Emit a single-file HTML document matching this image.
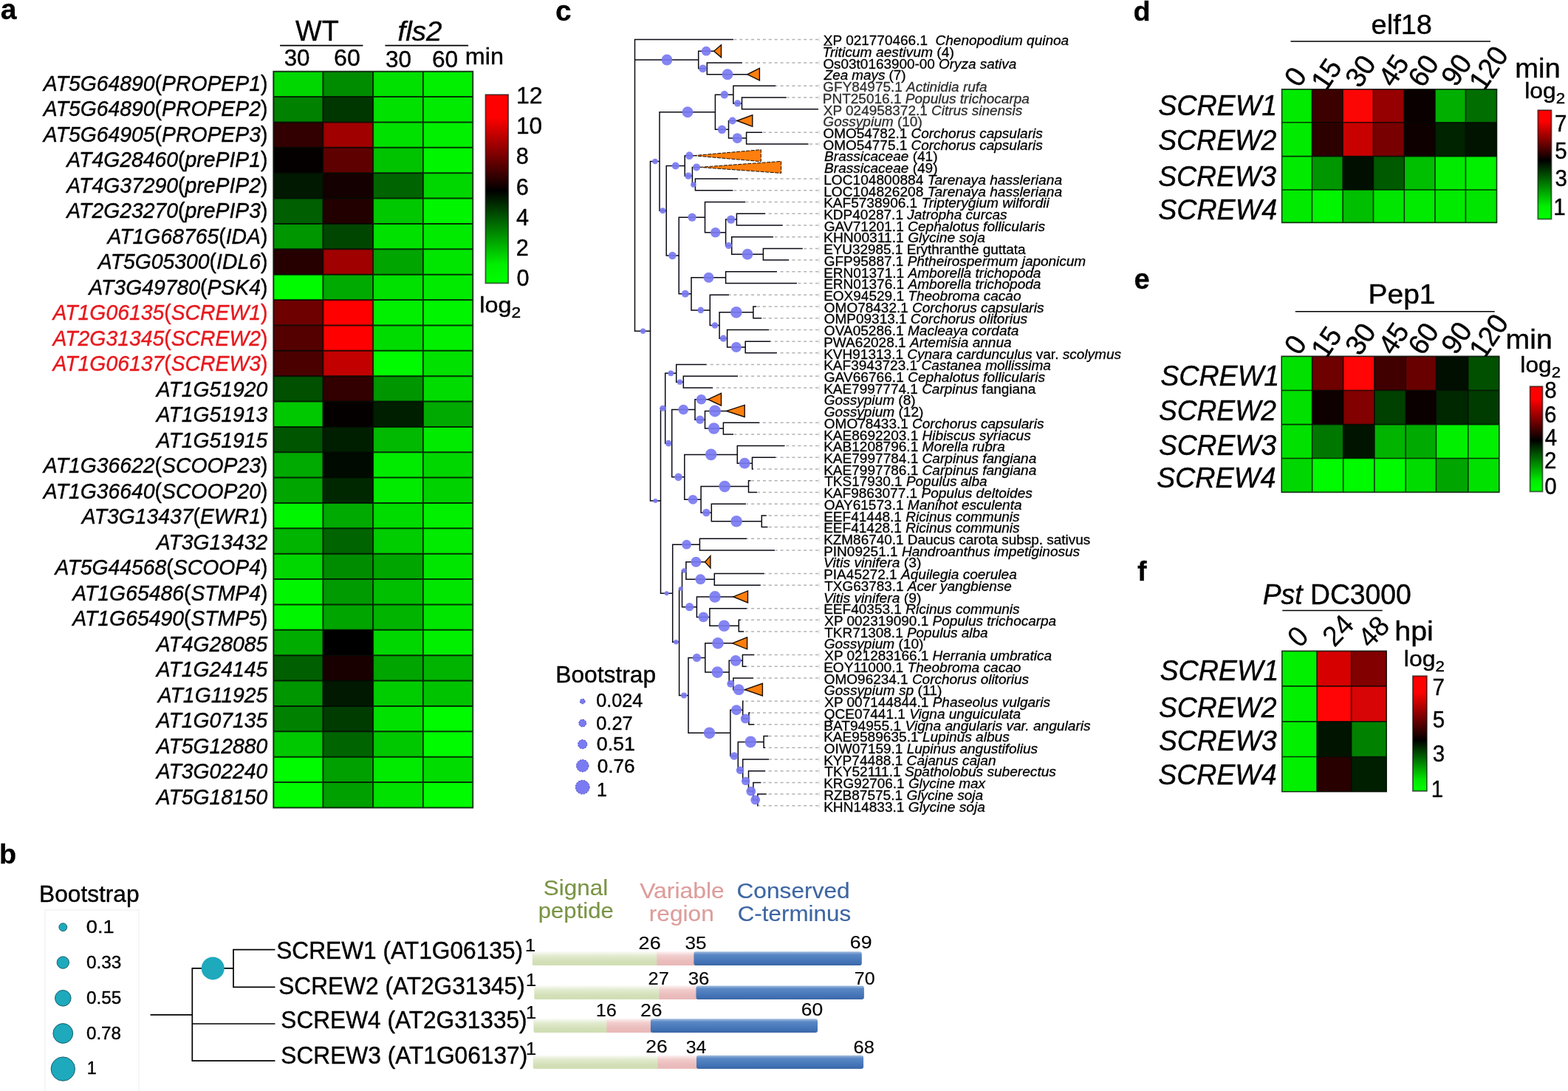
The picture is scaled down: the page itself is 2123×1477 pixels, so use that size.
<!DOCTYPE html>
<html lang="en">
<head>
<meta charset="utf-8">
<title>SCREW peptides figure</title>
<style>
html,body{margin:0;padding:0;background:#fff;}
body{width:2123px;height:1477px;overflow:hidden;}
svg{display:block;font-family:"Liberation Sans",sans-serif;fill:#000;}
text{stroke:#000;stroke-width:0.4px;stroke-linejoin:round;}
text.s0{stroke-width:0} text.s1{stroke-width:0.3px} text.s2{stroke-width:0.15px}
</style>
</head>
<body>
<svg width="2123" height="1477" viewBox="0 0 2123 1477">
<rect width="2123" height="1477" fill="#fff"/>
<defs>
<linearGradient id="gb" x1="0" y1="0" x2="0" y2="1"><stop offset="0" stop-color="#ff0000"/><stop offset="0.12" stop-color="#ff0000"/><stop offset="0.51" stop-color="#000000"/><stop offset="0.9" stop-color="#00ee00"/><stop offset="1" stop-color="#00ff00"/></linearGradient>
<linearGradient id="gb2" x1="0" y1="0" x2="0" y2="1"><stop offset="0" stop-color="#ff0000"/><stop offset="0.1" stop-color="#ff0000"/><stop offset="0.46" stop-color="#000000"/><stop offset="0.88" stop-color="#00ee00"/><stop offset="1" stop-color="#00ff00"/></linearGradient>
<linearGradient id="gb3" x1="0" y1="0" x2="0" y2="1"><stop offset="0" stop-color="#ff0000"/><stop offset="0.14" stop-color="#ff0000"/><stop offset="0.56" stop-color="#000000"/><stop offset="0.9" stop-color="#00e600"/><stop offset="1" stop-color="#00ff00"/></linearGradient>
<linearGradient id="gg" x1="0" y1="0" x2="0" y2="1"><stop offset="0" stop-color="#fbfcf8"/><stop offset="0.3" stop-color="#e2ebd0"/><stop offset="0.7" stop-color="#d3e0b7"/><stop offset="1" stop-color="#d0deb3"/></linearGradient>
<linearGradient id="gp" x1="0" y1="0" x2="0" y2="1"><stop offset="0" stop-color="#fdf4f4"/><stop offset="0.3" stop-color="#f1cdcc"/><stop offset="0.7" stop-color="#eabcbb"/><stop offset="1" stop-color="#e8b8b7"/></linearGradient>
<linearGradient id="gbl" x1="0" y1="0" x2="0" y2="1"><stop offset="0" stop-color="#a3bde0"/><stop offset="0.22" stop-color="#5a88c5"/><stop offset="0.75" stop-color="#4273b6"/><stop offset="1" stop-color="#3a67a6"/></linearGradient>
</defs>
<text x="0.7" y="26.4" font-size="39.2" font-weight="bold" class="s1">a</text>
<text x="752" y="27.6" font-size="38.8" font-weight="bold" class="s1">c</text>
<text x="1534.4" y="27.8" font-size="37.8" font-weight="bold" class="s1">d</text>
<text x="1535.5" y="391.2" font-size="38" font-weight="bold" class="s1">e</text>
<text x="1540" y="786" font-size="37.8" font-weight="bold" class="s1">f</text>
<text x="-1" y="1169" font-size="37.8" font-weight="bold" class="s1">b</text>
<rect x="370.3" y="96.7" width="67.4" height="34.67" fill="#00d700"/>
<rect x="437.4" y="96.7" width="68" height="34.67" fill="#008c00"/>
<rect x="505.1" y="96.7" width="68.1" height="34.67" fill="#00e100"/>
<rect x="572.9" y="96.7" width="67.6" height="34.67" fill="#00f000"/>
<rect x="370.3" y="131.07" width="67.4" height="34.67" fill="#008200"/>
<rect x="437.4" y="131.07" width="68" height="34.67" fill="#003700"/>
<rect x="505.1" y="131.07" width="68.1" height="34.67" fill="#00e100"/>
<rect x="572.9" y="131.07" width="67.6" height="34.67" fill="#00eb00"/>
<rect x="370.3" y="165.44" width="67.4" height="34.67" fill="#320000"/>
<rect x="437.4" y="165.44" width="68" height="34.67" fill="#a00000"/>
<rect x="505.1" y="165.44" width="68.1" height="34.67" fill="#00e100"/>
<rect x="572.9" y="165.44" width="67.6" height="34.67" fill="#00f000"/>
<rect x="370.3" y="199.81" width="67.4" height="34.67" fill="#050000"/>
<rect x="437.4" y="199.81" width="68" height="34.67" fill="#5f0000"/>
<rect x="505.1" y="199.81" width="68.1" height="34.67" fill="#00c300"/>
<rect x="572.9" y="199.81" width="67.6" height="34.67" fill="#00f500"/>
<rect x="370.3" y="234.18" width="67.4" height="34.67" fill="#001900"/>
<rect x="437.4" y="234.18" width="68" height="34.67" fill="#140000"/>
<rect x="505.1" y="234.18" width="68.1" height="34.67" fill="#006400"/>
<rect x="572.9" y="234.18" width="67.6" height="34.67" fill="#00d700"/>
<rect x="370.3" y="268.55" width="67.4" height="34.67" fill="#005f00"/>
<rect x="437.4" y="268.55" width="68" height="34.67" fill="#230000"/>
<rect x="505.1" y="268.55" width="68.1" height="34.67" fill="#00c800"/>
<rect x="572.9" y="268.55" width="67.6" height="34.67" fill="#00f500"/>
<rect x="370.3" y="302.92" width="67.4" height="34.67" fill="#009600"/>
<rect x="437.4" y="302.92" width="68" height="34.67" fill="#004600"/>
<rect x="505.1" y="302.92" width="68.1" height="34.67" fill="#00e100"/>
<rect x="572.9" y="302.92" width="67.6" height="34.67" fill="#00eb00"/>
<rect x="370.3" y="337.29" width="67.4" height="34.67" fill="#260000"/>
<rect x="437.4" y="337.29" width="68" height="34.67" fill="#a00000"/>
<rect x="505.1" y="337.29" width="68.1" height="34.67" fill="#00a500"/>
<rect x="572.9" y="337.29" width="67.6" height="34.67" fill="#00e600"/>
<rect x="370.3" y="371.66" width="67.4" height="34.67" fill="#00fa00"/>
<rect x="437.4" y="371.66" width="68" height="34.67" fill="#00aa00"/>
<rect x="505.1" y="371.66" width="68.1" height="34.67" fill="#00e100"/>
<rect x="572.9" y="371.66" width="67.6" height="34.67" fill="#00eb00"/>
<rect x="370.3" y="406.03" width="67.4" height="34.67" fill="#6e0000"/>
<rect x="437.4" y="406.03" width="68" height="34.67" fill="#ff0000"/>
<rect x="505.1" y="406.03" width="68.1" height="34.67" fill="#00f000"/>
<rect x="572.9" y="406.03" width="67.6" height="34.67" fill="#00f500"/>
<rect x="370.3" y="440.4" width="67.4" height="34.67" fill="#550000"/>
<rect x="437.4" y="440.4" width="68" height="34.67" fill="#ff0000"/>
<rect x="505.1" y="440.4" width="68.1" height="34.67" fill="#00dc00"/>
<rect x="572.9" y="440.4" width="67.6" height="34.67" fill="#00f000"/>
<rect x="370.3" y="474.77" width="67.4" height="34.67" fill="#4b0000"/>
<rect x="437.4" y="474.77" width="68" height="34.67" fill="#c30000"/>
<rect x="505.1" y="474.77" width="68.1" height="34.67" fill="#00fa00"/>
<rect x="572.9" y="474.77" width="67.6" height="34.67" fill="#00e100"/>
<rect x="370.3" y="509.14" width="67.4" height="34.67" fill="#005000"/>
<rect x="437.4" y="509.14" width="68" height="34.67" fill="#320000"/>
<rect x="505.1" y="509.14" width="68.1" height="34.67" fill="#009600"/>
<rect x="572.9" y="509.14" width="67.6" height="34.67" fill="#00dc00"/>
<rect x="370.3" y="543.51" width="67.4" height="34.67" fill="#00c800"/>
<rect x="437.4" y="543.51" width="68" height="34.67" fill="#050000"/>
<rect x="505.1" y="543.51" width="68.1" height="34.67" fill="#001e00"/>
<rect x="572.9" y="543.51" width="67.6" height="34.67" fill="#00aa00"/>
<rect x="370.3" y="577.88" width="67.4" height="34.67" fill="#005500"/>
<rect x="437.4" y="577.88" width="68" height="34.67" fill="#001e00"/>
<rect x="505.1" y="577.88" width="68.1" height="34.67" fill="#00b900"/>
<rect x="572.9" y="577.88" width="67.6" height="34.67" fill="#00eb00"/>
<rect x="370.3" y="612.25" width="67.4" height="34.67" fill="#00aa00"/>
<rect x="437.4" y="612.25" width="68" height="34.67" fill="#000a00"/>
<rect x="505.1" y="612.25" width="68.1" height="34.67" fill="#00eb00"/>
<rect x="572.9" y="612.25" width="67.6" height="34.67" fill="#00d700"/>
<rect x="370.3" y="646.62" width="67.4" height="34.67" fill="#00a500"/>
<rect x="437.4" y="646.62" width="68" height="34.67" fill="#002800"/>
<rect x="505.1" y="646.62" width="68.1" height="34.67" fill="#00eb00"/>
<rect x="572.9" y="646.62" width="67.6" height="34.67" fill="#00d200"/>
<rect x="370.3" y="680.99" width="67.4" height="34.67" fill="#00f500"/>
<rect x="437.4" y="680.99" width="68" height="34.67" fill="#00aa00"/>
<rect x="505.1" y="680.99" width="68.1" height="34.67" fill="#00dc00"/>
<rect x="572.9" y="680.99" width="67.6" height="34.67" fill="#00f000"/>
<rect x="370.3" y="715.36" width="67.4" height="34.67" fill="#00b400"/>
<rect x="437.4" y="715.36" width="68" height="34.67" fill="#006400"/>
<rect x="505.1" y="715.36" width="68.1" height="34.67" fill="#00cd00"/>
<rect x="572.9" y="715.36" width="67.6" height="34.67" fill="#00eb00"/>
<rect x="370.3" y="749.73" width="67.4" height="34.67" fill="#00d700"/>
<rect x="437.4" y="749.73" width="68" height="34.67" fill="#008c00"/>
<rect x="505.1" y="749.73" width="68.1" height="34.67" fill="#00a500"/>
<rect x="572.9" y="749.73" width="67.6" height="34.67" fill="#00e600"/>
<rect x="370.3" y="784.1" width="67.4" height="34.67" fill="#00f500"/>
<rect x="437.4" y="784.1" width="68" height="34.67" fill="#009b00"/>
<rect x="505.1" y="784.1" width="68.1" height="34.67" fill="#00be00"/>
<rect x="572.9" y="784.1" width="67.6" height="34.67" fill="#00e600"/>
<rect x="370.3" y="818.47" width="67.4" height="34.67" fill="#00f500"/>
<rect x="437.4" y="818.47" width="68" height="34.67" fill="#00a500"/>
<rect x="505.1" y="818.47" width="68.1" height="34.67" fill="#00b400"/>
<rect x="572.9" y="818.47" width="67.6" height="34.67" fill="#00e600"/>
<rect x="370.3" y="852.84" width="67.4" height="34.67" fill="#00ac00"/>
<rect x="437.4" y="852.84" width="68" height="34.67" fill="#000000"/>
<rect x="505.1" y="852.84" width="68.1" height="34.67" fill="#00d700"/>
<rect x="572.9" y="852.84" width="67.6" height="34.67" fill="#00f000"/>
<rect x="370.3" y="887.21" width="67.4" height="34.67" fill="#005f00"/>
<rect x="437.4" y="887.21" width="68" height="34.67" fill="#190000"/>
<rect x="505.1" y="887.21" width="68.1" height="34.67" fill="#00a500"/>
<rect x="572.9" y="887.21" width="67.6" height="34.67" fill="#00b400"/>
<rect x="370.3" y="921.58" width="67.4" height="34.67" fill="#009600"/>
<rect x="437.4" y="921.58" width="68" height="34.67" fill="#001900"/>
<rect x="505.1" y="921.58" width="68.1" height="34.67" fill="#00cd00"/>
<rect x="572.9" y="921.58" width="67.6" height="34.67" fill="#00c300"/>
<rect x="370.3" y="955.95" width="67.4" height="34.67" fill="#008200"/>
<rect x="437.4" y="955.95" width="68" height="34.67" fill="#003c00"/>
<rect x="505.1" y="955.95" width="68.1" height="34.67" fill="#00e100"/>
<rect x="572.9" y="955.95" width="67.6" height="34.67" fill="#00fa00"/>
<rect x="370.3" y="990.32" width="67.4" height="34.67" fill="#00c800"/>
<rect x="437.4" y="990.32" width="68" height="34.67" fill="#006400"/>
<rect x="505.1" y="990.32" width="68.1" height="34.67" fill="#00c800"/>
<rect x="572.9" y="990.32" width="67.6" height="34.67" fill="#00fa00"/>
<rect x="370.3" y="1024.69" width="67.4" height="34.67" fill="#00fa00"/>
<rect x="437.4" y="1024.69" width="68" height="34.67" fill="#00a000"/>
<rect x="505.1" y="1024.69" width="68.1" height="34.67" fill="#00eb00"/>
<rect x="572.9" y="1024.69" width="67.6" height="34.67" fill="#00dc00"/>
<rect x="370.3" y="1059.06" width="67.4" height="34.67" fill="#00fa00"/>
<rect x="437.4" y="1059.06" width="68" height="34.67" fill="#00a000"/>
<rect x="505.1" y="1059.06" width="68.1" height="34.67" fill="#00e100"/>
<rect x="572.9" y="1059.06" width="67.6" height="34.67" fill="#00fa00"/>
<path d="M370.3 96.7V1093.43M437.4 96.7V1093.43M505.1 96.7V1093.43M572.9 96.7V1093.43M640.2 96.7V1093.43M370.3 96.7H640.2M370.3 131.07H640.2M370.3 165.44H640.2M370.3 199.81H640.2M370.3 234.18H640.2M370.3 268.55H640.2M370.3 302.92H640.2M370.3 337.29H640.2M370.3 371.66H640.2M370.3 406.03H640.2M370.3 440.4H640.2M370.3 474.77H640.2M370.3 509.14H640.2M370.3 543.51H640.2M370.3 577.88H640.2M370.3 612.25H640.2M370.3 646.62H640.2M370.3 680.99H640.2M370.3 715.36H640.2M370.3 749.73H640.2M370.3 784.1H640.2M370.3 818.47H640.2M370.3 852.84H640.2M370.3 887.21H640.2M370.3 921.58H640.2M370.3 955.95H640.2M370.3 990.32H640.2M370.3 1024.69H640.2M370.3 1059.06H640.2M370.3 1093.43H640.2" stroke="#000800" stroke-width="2" fill="none" stroke-opacity="0.8" stroke-linecap="square"/>
<text x="362.4" y="122.85" font-size="29.48" xml:space="preserve" text-anchor="end" textLength="303.56" lengthAdjust="spacingAndGlyphs"><tspan font-style="italic">AT5G64890</tspan>(<tspan font-style="italic">PROPEP1</tspan>)</text>
<text x="362.4" y="157.35" font-size="29.48" xml:space="preserve" text-anchor="end" textLength="303.56" lengthAdjust="spacingAndGlyphs"><tspan font-style="italic">AT5G64890</tspan>(<tspan font-style="italic">PROPEP2</tspan>)</text>
<text x="362.4" y="191.85" font-size="29.48" xml:space="preserve" text-anchor="end" textLength="303.56" lengthAdjust="spacingAndGlyphs"><tspan font-style="italic">AT5G64905</tspan>(<tspan font-style="italic">PROPEP3</tspan>)</text>
<text x="362.4" y="226.35" font-size="29.48" xml:space="preserve" text-anchor="end" textLength="272.08" lengthAdjust="spacingAndGlyphs"><tspan font-style="italic">AT4G28460</tspan>(<tspan font-style="italic">prePIP1</tspan>)</text>
<text x="362.4" y="260.85" font-size="29.48" xml:space="preserve" text-anchor="end" textLength="272.08" lengthAdjust="spacingAndGlyphs"><tspan font-style="italic">AT4G37290</tspan>(<tspan font-style="italic">prePIP2</tspan>)</text>
<text x="362.4" y="295.35" font-size="29.48" xml:space="preserve" text-anchor="end" textLength="272.08" lengthAdjust="spacingAndGlyphs"><tspan font-style="italic">AT2G23270</tspan>(<tspan font-style="italic">prePIP3</tspan>)</text>
<text x="362.4" y="329.85" font-size="29.48" xml:space="preserve" text-anchor="end" textLength="216.91" lengthAdjust="spacingAndGlyphs"><tspan font-style="italic">AT1G68765</tspan>(<tspan font-style="italic">IDA</tspan>)</text>
<text x="362.4" y="364.35" font-size="29.48" xml:space="preserve" text-anchor="end" textLength="229.53" lengthAdjust="spacingAndGlyphs"><tspan font-style="italic">AT5G05300</tspan>(<tspan font-style="italic">IDL6</tspan>)</text>
<text x="362.4" y="398.85" font-size="29.48" xml:space="preserve" text-anchor="end" textLength="242.14" lengthAdjust="spacingAndGlyphs"><tspan font-style="italic">AT3G49780</tspan>(<tspan font-style="italic">PSK4</tspan>)</text>
<text x="362.4" y="433.35" font-size="29.48" xml:space="preserve" text-anchor="end" style="fill:#e6191e;stroke:#e6191e" textLength="290.92" lengthAdjust="spacingAndGlyphs"><tspan font-style="italic">AT1G06135</tspan>(<tspan font-style="italic">SCREW1</tspan>)</text>
<text x="362.4" y="467.85" font-size="29.48" xml:space="preserve" text-anchor="end" style="fill:#e6191e;stroke:#e6191e" textLength="290.92" lengthAdjust="spacingAndGlyphs"><tspan font-style="italic">AT2G31345</tspan>(<tspan font-style="italic">SCREW2</tspan>)</text>
<text x="362.4" y="502.35" font-size="29.48" xml:space="preserve" text-anchor="end" style="fill:#e6191e;stroke:#e6191e" textLength="290.92" lengthAdjust="spacingAndGlyphs"><tspan font-style="italic">AT1G06137</tspan>(<tspan font-style="italic">SCREW3</tspan>)</text>
<text x="362.4" y="536.85" font-size="29.48" xml:space="preserve" text-anchor="end" textLength="150.75" lengthAdjust="spacingAndGlyphs"><tspan font-style="italic">AT1G51920</tspan></text>
<text x="362.4" y="571.35" font-size="29.48" xml:space="preserve" text-anchor="end" textLength="150.75" lengthAdjust="spacingAndGlyphs"><tspan font-style="italic">AT1G51913</tspan></text>
<text x="362.4" y="605.85" font-size="29.48" xml:space="preserve" text-anchor="end" textLength="150.75" lengthAdjust="spacingAndGlyphs"><tspan font-style="italic">AT1G51915</tspan></text>
<text x="362.4" y="640.35" font-size="29.48" xml:space="preserve" text-anchor="end" textLength="303.56" lengthAdjust="spacingAndGlyphs"><tspan font-style="italic">AT1G36622</tspan>(<tspan font-style="italic">SCOOP23</tspan>)</text>
<text x="362.4" y="674.85" font-size="29.48" xml:space="preserve" text-anchor="end" textLength="303.56" lengthAdjust="spacingAndGlyphs"><tspan font-style="italic">AT1G36640</tspan>(<tspan font-style="italic">SCOOP20</tspan>)</text>
<text x="362.4" y="709.35" font-size="29.48" xml:space="preserve" text-anchor="end" textLength="251.55" lengthAdjust="spacingAndGlyphs"><tspan font-style="italic">AT3G13437</tspan>(<tspan font-style="italic">EWR1</tspan>)</text>
<text x="362.4" y="743.85" font-size="29.48" xml:space="preserve" text-anchor="end" textLength="150.75" lengthAdjust="spacingAndGlyphs"><tspan font-style="italic">AT3G13432</tspan></text>
<text x="362.4" y="778.35" font-size="29.48" xml:space="preserve" text-anchor="end" textLength="287.8" lengthAdjust="spacingAndGlyphs"><tspan font-style="italic">AT5G44568</tspan>(<tspan font-style="italic">SCOOP4</tspan>)</text>
<text x="362.4" y="812.85" font-size="29.48" xml:space="preserve" text-anchor="end" textLength="264.16" lengthAdjust="spacingAndGlyphs"><tspan font-style="italic">AT1G65486</tspan>(<tspan font-style="italic">STMP4</tspan>)</text>
<text x="362.4" y="847.35" font-size="29.48" xml:space="preserve" text-anchor="end" textLength="264.16" lengthAdjust="spacingAndGlyphs"><tspan font-style="italic">AT1G65490</tspan>(<tspan font-style="italic">STMP5</tspan>)</text>
<text x="362.4" y="881.85" font-size="29.48" xml:space="preserve" text-anchor="end" textLength="150.75" lengthAdjust="spacingAndGlyphs"><tspan font-style="italic">AT4G28085</tspan></text>
<text x="362.4" y="916.35" font-size="29.48" xml:space="preserve" text-anchor="end" textLength="150.75" lengthAdjust="spacingAndGlyphs"><tspan font-style="italic">AT1G24145</tspan></text>
<text x="362.4" y="950.85" font-size="29.48" xml:space="preserve" text-anchor="end" textLength="148.64" lengthAdjust="spacingAndGlyphs"><tspan font-style="italic">AT1G11925</tspan></text>
<text x="362.4" y="985.35" font-size="29.48" xml:space="preserve" text-anchor="end" textLength="150.75" lengthAdjust="spacingAndGlyphs"><tspan font-style="italic">AT1G07135</tspan></text>
<text x="362.4" y="1019.85" font-size="29.48" xml:space="preserve" text-anchor="end" textLength="150.75" lengthAdjust="spacingAndGlyphs"><tspan font-style="italic">AT5G12880</tspan></text>
<text x="362.4" y="1054.35" font-size="29.48" xml:space="preserve" text-anchor="end" textLength="150.75" lengthAdjust="spacingAndGlyphs"><tspan font-style="italic">AT3G02240</tspan></text>
<text x="362.4" y="1088.85" font-size="29.48" xml:space="preserve" text-anchor="end" textLength="150.75" lengthAdjust="spacingAndGlyphs"><tspan font-style="italic">AT5G18150</tspan></text>
<text x="400.03" y="54.8" font-size="39.52" textLength="58.73" lengthAdjust="spacingAndGlyphs">WT</text>
<text x="538.5" y="54.9" font-size="37.43" font-style="italic" textLength="59.96" lengthAdjust="spacingAndGlyphs">fls2</text>
<line x1="379.1" y1="61.7" x2="491.4" y2="61.7" stroke="#000" stroke-width="1.8"/>
<line x1="521.4" y1="61.7" x2="634.1" y2="61.7" stroke="#000" stroke-width="1.8"/>
<text x="384.71" y="89" font-size="31.93" textLength="34.82" lengthAdjust="spacingAndGlyphs">30</text>
<text x="452.07" y="89" font-size="31.93" textLength="35.68" lengthAdjust="spacingAndGlyphs">60</text>
<text x="521.9" y="90.5" font-size="31.93" textLength="35.03" lengthAdjust="spacingAndGlyphs">30</text>
<text x="585" y="90.5" font-size="31.93" textLength="35.14" lengthAdjust="spacingAndGlyphs">60</text>
<text x="629.85" y="86.6" font-size="30.7" textLength="52.15" lengthAdjust="spacingAndGlyphs">min</text>
<rect x="657.4" y="128.2" width="30.8" height="255.2" fill="url(#gb)" stroke="#000" stroke-opacity="0.6" stroke-width="1.8"/>
<text x="698.91" y="140.2" font-size="31.93" textLength="35.6" lengthAdjust="spacingAndGlyphs">12</text>
<text x="698.95" y="181.2" font-size="31.93" textLength="35.18" lengthAdjust="spacingAndGlyphs">10</text>
<text x="698.77" y="221.9" font-size="31.93" textLength="17.08" lengthAdjust="spacingAndGlyphs">8</text>
<text x="698.74" y="263.7" font-size="31.93" textLength="17.08" lengthAdjust="spacingAndGlyphs">6</text>
<text x="699.1" y="304.6" font-size="31.93" textLength="17.08" lengthAdjust="spacingAndGlyphs">4</text>
<text x="698.76" y="346" font-size="31.93" textLength="17.08" lengthAdjust="spacingAndGlyphs">2</text>
<text x="699.4" y="386.9" font-size="31.93" textLength="17.08" lengthAdjust="spacingAndGlyphs">0</text>
<text x="649.32" y="423.2" font-size="29.8" textLength="55.82" lengthAdjust="spacingAndGlyphs">log<tspan font-size="21" dy="7.2">2</tspan></text>
<text x="1856.59" y="45.6" font-size="36.6" textLength="82.37" lengthAdjust="spacingAndGlyphs">elf18</text>
<line x1="1747.5" y1="56" x2="2018" y2="56" stroke="#000" stroke-width="1.5"/>
<text x="1764.68" y="111.21" font-size="38.48" text-anchor="middle" textLength="20.58" lengthAdjust="spacingAndGlyphs" transform="rotate(-56 1764.68 111.21)">0</text>
<text x="1806.68" y="108.01" font-size="38.48" text-anchor="middle" textLength="41.16" lengthAdjust="spacingAndGlyphs" transform="rotate(-56 1806.68 108.01)">15</text>
<text x="1852.68" y="103.61" font-size="38.48" text-anchor="middle" textLength="41.16" lengthAdjust="spacingAndGlyphs" transform="rotate(-56 1852.68 103.61)">30</text>
<text x="1897.78" y="102.81" font-size="38.48" text-anchor="middle" textLength="41.16" lengthAdjust="spacingAndGlyphs" transform="rotate(-56 1897.78 102.81)">45</text>
<text x="1937.98" y="103.11" font-size="38.48" text-anchor="middle" textLength="41.16" lengthAdjust="spacingAndGlyphs" transform="rotate(-56 1937.98 103.11)">60</text>
<text x="1982.78" y="101.91" font-size="38.48" text-anchor="middle" textLength="41.16" lengthAdjust="spacingAndGlyphs" transform="rotate(-56 1982.78 101.91)">90</text>
<text x="2026.38" y="99.71" font-size="38.48" text-anchor="middle" textLength="61.73" lengthAdjust="spacingAndGlyphs" transform="rotate(-56 2026.38 99.71)">120</text>
<rect x="1735.6" y="120.9" width="41.1" height="45.2" fill="#00eb00"/>
<rect x="1776.4" y="120.9" width="42" height="45.2" fill="#3c0000"/>
<rect x="1818.1" y="120.9" width="41.7" height="45.2" fill="#fc0505"/>
<rect x="1859.5" y="120.9" width="42.1" height="45.2" fill="#960000"/>
<rect x="1901.3" y="120.9" width="42" height="45.2" fill="#0a0000"/>
<rect x="1943" y="120.9" width="41.7" height="45.2" fill="#00af00"/>
<rect x="1984.4" y="120.9" width="42.4" height="45.2" fill="#006e00"/>
<rect x="1735.6" y="165.8" width="41.1" height="46.1" fill="#00eb00"/>
<rect x="1776.4" y="165.8" width="42" height="46.1" fill="#2d0000"/>
<rect x="1818.1" y="165.8" width="41.7" height="46.1" fill="#c80000"/>
<rect x="1859.5" y="165.8" width="42.1" height="46.1" fill="#780000"/>
<rect x="1901.3" y="165.8" width="42" height="46.1" fill="#0f0000"/>
<rect x="1943" y="165.8" width="41.7" height="46.1" fill="#002300"/>
<rect x="1984.4" y="165.8" width="42.4" height="46.1" fill="#001400"/>
<rect x="1735.6" y="211.6" width="41.1" height="45.7" fill="#00eb00"/>
<rect x="1776.4" y="211.6" width="42" height="45.7" fill="#009600"/>
<rect x="1818.1" y="211.6" width="41.7" height="45.7" fill="#000f00"/>
<rect x="1859.5" y="211.6" width="42.1" height="45.7" fill="#005a00"/>
<rect x="1901.3" y="211.6" width="42" height="45.7" fill="#00be00"/>
<rect x="1943" y="211.6" width="41.7" height="45.7" fill="#00eb00"/>
<rect x="1984.4" y="211.6" width="42.4" height="45.7" fill="#00f000"/>
<rect x="1735.6" y="257" width="41.1" height="44.7" fill="#00eb00"/>
<rect x="1776.4" y="257" width="42" height="44.7" fill="#00f500"/>
<rect x="1818.1" y="257" width="41.7" height="44.7" fill="#00be00"/>
<rect x="1859.5" y="257" width="42.1" height="44.7" fill="#00e600"/>
<rect x="1901.3" y="257" width="42" height="44.7" fill="#00eb00"/>
<rect x="1943" y="257" width="41.7" height="44.7" fill="#00eb00"/>
<rect x="1984.4" y="257" width="42.4" height="44.7" fill="#00e600"/>
<path d="M1735.6 120.9V301.4M1776.4 120.9V301.4M1818.1 120.9V301.4M1859.5 120.9V301.4M1901.3 120.9V301.4M1943 120.9V301.4M1984.4 120.9V301.4M2026.5 120.9V301.4M1735.6 120.9H2026.5M1735.6 165.8H2026.5M1735.6 211.6H2026.5M1735.6 257H2026.5M1735.6 301.4H2026.5" stroke="#000800" stroke-width="1.6" fill="none" stroke-opacity="0.8" stroke-linecap="square"/>
<text x="1568.13" y="155.9" font-size="39.31" font-style="italic" textLength="161.03" lengthAdjust="spacingAndGlyphs">SCREW1</text>
<text x="1568.14" y="202.8" font-size="39.31" font-style="italic" textLength="160.11" lengthAdjust="spacingAndGlyphs">SCREW2</text>
<text x="1568.14" y="252.1" font-size="39.31" font-style="italic" textLength="159.89" lengthAdjust="spacingAndGlyphs">SCREW3</text>
<text x="1568.13" y="297.4" font-size="39.31" font-style="italic" textLength="160.98" lengthAdjust="spacingAndGlyphs">SCREW4</text>
<text x="2051.27" y="104.5" font-size="37.5" textLength="61.51" lengthAdjust="spacingAndGlyphs">min</text>
<text x="2064.26" y="133.3" font-size="30" textLength="54.86" lengthAdjust="spacingAndGlyphs">log<tspan font-size="21" dy="7.1">2</tspan></text>
<rect x="2082.3" y="149.2" width="18.2" height="147.4" fill="url(#gb2)" stroke="#000" stroke-opacity="0.6" stroke-width="1.8"/>
<text x="2104.99" y="178.2" font-size="30.68" textLength="16.42" lengthAdjust="spacingAndGlyphs">7</text>
<text x="2105.32" y="215" font-size="30.68" textLength="16.42" lengthAdjust="spacingAndGlyphs">5</text>
<text x="2105.38" y="251.9" font-size="30.68" textLength="16.42" lengthAdjust="spacingAndGlyphs">3</text>
<text x="2103.28" y="291.4" font-size="30.68" textLength="16.42" lengthAdjust="spacingAndGlyphs">1</text>
<text x="1852.5" y="410.9" font-size="36.6" textLength="91.04" lengthAdjust="spacingAndGlyphs">Pep1</text>
<line x1="1753.8" y1="421.7" x2="2023.7" y2="421.7" stroke="#000" stroke-width="1.5"/>
<text x="1764.78" y="473.91" font-size="38.48" text-anchor="middle" textLength="20.58" lengthAdjust="spacingAndGlyphs" transform="rotate(-56 1764.78 473.91)">0</text>
<text x="1806.78" y="470.71" font-size="38.48" text-anchor="middle" textLength="41.16" lengthAdjust="spacingAndGlyphs" transform="rotate(-56 1806.78 470.71)">15</text>
<text x="1852.78" y="466.31" font-size="38.48" text-anchor="middle" textLength="41.16" lengthAdjust="spacingAndGlyphs" transform="rotate(-56 1852.78 466.31)">30</text>
<text x="1897.88" y="465.51" font-size="38.48" text-anchor="middle" textLength="41.16" lengthAdjust="spacingAndGlyphs" transform="rotate(-56 1897.88 465.51)">45</text>
<text x="1938.08" y="465.81" font-size="38.48" text-anchor="middle" textLength="41.16" lengthAdjust="spacingAndGlyphs" transform="rotate(-56 1938.08 465.81)">60</text>
<text x="1982.88" y="464.61" font-size="38.48" text-anchor="middle" textLength="41.16" lengthAdjust="spacingAndGlyphs" transform="rotate(-56 1982.88 464.61)">90</text>
<text x="2026.48" y="462.41" font-size="38.48" text-anchor="middle" textLength="61.73" lengthAdjust="spacingAndGlyphs" transform="rotate(-56 2026.48 462.41)">120</text>
<rect x="1735.2" y="482.4" width="41.7" height="46.4" fill="#00e100"/>
<rect x="1776.6" y="482.4" width="42.4" height="46.4" fill="#6e0000"/>
<rect x="1818.7" y="482.4" width="42.5" height="46.4" fill="#ff0505"/>
<rect x="1860.9" y="482.4" width="42.6" height="46.4" fill="#410000"/>
<rect x="1903.2" y="482.4" width="41.5" height="46.4" fill="#690000"/>
<rect x="1944.4" y="482.4" width="43.6" height="46.4" fill="#000f00"/>
<rect x="1987.7" y="482.4" width="42.4" height="46.4" fill="#005000"/>
<rect x="1735.2" y="528.5" width="41.7" height="46.4" fill="#00e100"/>
<rect x="1776.6" y="528.5" width="42.4" height="46.4" fill="#0f0000"/>
<rect x="1818.7" y="528.5" width="42.5" height="46.4" fill="#820000"/>
<rect x="1860.9" y="528.5" width="42.6" height="46.4" fill="#004100"/>
<rect x="1903.2" y="528.5" width="41.5" height="46.4" fill="#0a0000"/>
<rect x="1944.4" y="528.5" width="43.6" height="46.4" fill="#002800"/>
<rect x="1987.7" y="528.5" width="42.4" height="46.4" fill="#003c00"/>
<rect x="1735.2" y="574.6" width="41.7" height="46.2" fill="#00e100"/>
<rect x="1776.6" y="574.6" width="42.4" height="46.2" fill="#007800"/>
<rect x="1818.7" y="574.6" width="42.5" height="46.2" fill="#001400"/>
<rect x="1860.9" y="574.6" width="42.6" height="46.2" fill="#00b400"/>
<rect x="1903.2" y="574.6" width="41.5" height="46.2" fill="#00aa00"/>
<rect x="1944.4" y="574.6" width="43.6" height="46.2" fill="#00f000"/>
<rect x="1987.7" y="574.6" width="42.4" height="46.2" fill="#00f000"/>
<rect x="1735.2" y="620.5" width="41.7" height="46.2" fill="#00d700"/>
<rect x="1776.6" y="620.5" width="42.4" height="46.2" fill="#00fa00"/>
<rect x="1818.7" y="620.5" width="42.5" height="46.2" fill="#00fa00"/>
<rect x="1860.9" y="620.5" width="42.6" height="46.2" fill="#00fa00"/>
<rect x="1903.2" y="620.5" width="41.5" height="46.2" fill="#00dc00"/>
<rect x="1944.4" y="620.5" width="43.6" height="46.2" fill="#00a500"/>
<rect x="1987.7" y="620.5" width="42.4" height="46.2" fill="#00e100"/>
<path d="M1735.2 482.4V666.4M1776.6 482.4V666.4M1818.7 482.4V666.4M1860.9 482.4V666.4M1903.2 482.4V666.4M1944.4 482.4V666.4M1987.7 482.4V666.4M2029.8 482.4V666.4M1735.2 482.4H2029.8M1735.2 528.5H2029.8M1735.2 574.6H2029.8M1735.2 620.5H2029.8M1735.2 666.4H2029.8" stroke="#000800" stroke-width="1.6" fill="none" stroke-opacity="0.8" stroke-linecap="square"/>
<text x="1571.13" y="521.9" font-size="39.31" font-style="italic" textLength="161.03" lengthAdjust="spacingAndGlyphs">SCREW1</text>
<text x="1568.95" y="569.3" font-size="39.31" font-style="italic" textLength="158.9" lengthAdjust="spacingAndGlyphs">SCREW2</text>
<text x="1568.95" y="616.2" font-size="39.31" font-style="italic" textLength="159.18" lengthAdjust="spacingAndGlyphs">SCREW3</text>
<text x="1565.93" y="660.1" font-size="39.31" font-style="italic" textLength="161.49" lengthAdjust="spacingAndGlyphs">SCREW4</text>
<text x="2038.59" y="472" font-size="37.5" textLength="63.26" lengthAdjust="spacingAndGlyphs">min</text>
<text x="2058.36" y="504.3" font-size="30" textLength="54.76" lengthAdjust="spacingAndGlyphs">log<tspan font-size="21" dy="7.1">2</tspan></text>
<rect x="2071.6" y="523.2" width="16.9" height="142.3" fill="url(#gb)" stroke="#000" stroke-opacity="0.6" stroke-width="1.8"/>
<text x="2091.22" y="539" font-size="30.68" textLength="16.42" lengthAdjust="spacingAndGlyphs">8</text>
<text x="2091" y="572.4" font-size="30.68" textLength="16.42" lengthAdjust="spacingAndGlyphs">6</text>
<text x="2091.82" y="602.6" font-size="30.68" textLength="16.42" lengthAdjust="spacingAndGlyphs">4</text>
<text x="2091.02" y="634.2" font-size="30.68" textLength="16.42" lengthAdjust="spacingAndGlyphs">2</text>
<text x="2091.35" y="668.5" font-size="30.68" textLength="16.42" lengthAdjust="spacingAndGlyphs">0</text>
<text x="1709.65" y="817.7" font-size="38.06" xml:space="preserve" textLength="201.21" lengthAdjust="spacingAndGlyphs"><tspan font-style="italic">Pst</tspan> DC3000</text>
<line x1="1736.3" y1="826.5" x2="1871.7" y2="826.5" stroke="#000" stroke-width="1.5"/>
<text x="1766.63" y="870.9" font-size="38.48" text-anchor="middle" textLength="20.58" lengthAdjust="spacingAndGlyphs" transform="rotate(-46 1766.63 870.9)" class="s2">0</text>
<text x="1821.03" y="862.4" font-size="38.48" text-anchor="middle" textLength="41.16" lengthAdjust="spacingAndGlyphs" transform="rotate(-46 1821.03 862.4)" class="s2">24</text>
<text x="1869.33" y="864.2" font-size="38.48" text-anchor="middle" textLength="41.16" lengthAdjust="spacingAndGlyphs" transform="rotate(-46 1869.33 864.2)" class="s2">48</text>
<rect x="1735.8" y="881.4" width="47.5" height="47.8" fill="#00f000"/>
<rect x="1783" y="881.4" width="47" height="47.8" fill="#d70000"/>
<rect x="1829.7" y="881.4" width="47.8" height="47.8" fill="#820000"/>
<rect x="1735.8" y="928.9" width="47.5" height="48.3" fill="#00f000"/>
<rect x="1783" y="928.9" width="47" height="48.3" fill="#ff0505"/>
<rect x="1829.7" y="928.9" width="47.8" height="48.3" fill="#d70505"/>
<rect x="1735.8" y="976.9" width="47.5" height="47.9" fill="#00f000"/>
<rect x="1783" y="976.9" width="47" height="47.9" fill="#001400"/>
<rect x="1829.7" y="976.9" width="47.8" height="47.9" fill="#008200"/>
<rect x="1735.8" y="1024.5" width="47.5" height="47.5" fill="#00f000"/>
<rect x="1783" y="1024.5" width="47" height="47.5" fill="#280000"/>
<rect x="1829.7" y="1024.5" width="47.8" height="47.5" fill="#001e00"/>
<path d="M1735.8 881.4V1071.7M1783 881.4V1071.7M1829.7 881.4V1071.7M1877.2 881.4V1071.7M1735.8 881.4H1877.2M1735.8 928.9H1877.2M1735.8 976.9H1877.2M1735.8 1024.5H1877.2M1735.8 1071.7H1877.2" stroke="#000800" stroke-width="1.6" fill="none" stroke-opacity="0.8" stroke-linecap="square"/>
<text x="1570.43" y="921.3" font-size="39.31" font-style="italic" textLength="160.92" lengthAdjust="spacingAndGlyphs">SCREW1</text>
<text x="1568.94" y="970.5" font-size="39.31" font-style="italic" textLength="159.6" lengthAdjust="spacingAndGlyphs">SCREW2</text>
<text x="1568.94" y="1016.2" font-size="39.31" font-style="italic" textLength="159.79" lengthAdjust="spacingAndGlyphs">SCREW3</text>
<text x="1568.14" y="1062.4" font-size="39.31" font-style="italic" textLength="160.47" lengthAdjust="spacingAndGlyphs">SCREW4</text>
<text x="1888.27" y="867.1" font-size="37.5" textLength="52.59" lengthAdjust="spacingAndGlyphs">hpi</text>
<text x="1900.85" y="902.2" font-size="30" textLength="54.97" lengthAdjust="spacingAndGlyphs">log<tspan font-size="21" dy="7.1">2</tspan></text>
<rect x="1912.9" y="915.2" width="19" height="155.7" fill="url(#gb3)" stroke="#000" stroke-opacity="0.6" stroke-width="1.8"/>
<text x="1939.39" y="941.2" font-size="30.68" textLength="16.42" lengthAdjust="spacingAndGlyphs">7</text>
<text x="1939.72" y="984.6" font-size="30.68" textLength="16.42" lengthAdjust="spacingAndGlyphs">5</text>
<text x="1939.78" y="1030.5" font-size="30.68" textLength="16.42" lengthAdjust="spacingAndGlyphs">3</text>
<text x="1937.68" y="1078.5" font-size="30.68" textLength="16.42" lengthAdjust="spacingAndGlyphs">1</text>
<path d="M1108 53.5H993.7M1108 84.93H1005.7M1108 116.37H1051.2M1108 132.09H1065.5M1108 179.24H1032.8M1108 194.95H1095.3M1108 242.1H1000.1M1108 257.82H993M1108 273.54H1010M1108 289.25H1037M1108 304.97H1060.5M1108 320.69H1047.7M1108 336.41H1087.5M1108 352.12H1069M1108 367.84H1052.7M1108 383.56H1079.7M1108 399.27H988M1108 414.99H1024.9M1108 430.71H1032M1108 446.43H1042M1108 462.14H1044.1M1108 477.86H1052.7M1108 493.58H957.4M1108 509.29H999.8M1108 525.01H965.9M1108 572.16H1029.2M1108 587.88H993.7M1108 603.6H1063.3M1108 619.31H1051.2M1108 635.03H1020.7M1108 650.75H1017.1M1108 666.46H1025.9M1108 682.18H1010.7M1108 697.9H1038.5M1108 713.61H1040.2M1108 729.33H1012.1M1108 745.05H1049.8M1108 776.48H1035.6M1108 792.2H1030.6M1108 823.63H1012.1M1108 839.35H1003.6M1108 855.07H1007.9M1108 886.5H1022.1M1108 902.22H1011.4M1108 917.94H1020.7M1108 949.37H1007.5M1108 965.09H1016.5M1108 980.8H1022.1M1108 996.52H1041M1108 1012.24H1037M1108 1027.95H1042M1108 1043.67H1037M1108 1059.39H1031.1M1108 1075.11H1038.5M1108 1090.82H1027.5" stroke="#b2b2b2" stroke-width="1.5" stroke-dasharray="4 3.9" fill="none"/>
<path d="M1109.2 50.5v6M1109.2 81.93v6M1109.2 113.37v6M1109.2 129.09v6M1109.2 176.24v6M1109.2 191.95v6M1109.2 239.1v6M1109.2 254.82v6M1109.2 270.54v6M1109.2 286.25v6M1109.2 301.97v6M1109.2 317.69v6M1109.2 333.41v6M1109.2 349.12v6M1109.2 364.84v6M1109.2 380.56v6M1109.2 396.27v6M1109.2 411.99v6M1109.2 427.71v6M1109.2 443.43v6M1109.2 459.14v6M1109.2 474.86v6M1109.2 490.58v6M1109.2 506.29v6M1109.2 522.01v6M1109.2 569.16v6M1109.2 584.88v6M1109.2 600.6v6M1109.2 616.31v6M1109.2 632.03v6M1109.2 647.75v6M1109.2 663.46v6M1109.2 679.18v6M1109.2 694.9v6M1109.2 710.61v6M1109.2 726.33v6M1109.2 742.05v6M1109.2 773.48v6M1109.2 789.2v6M1109.2 820.63v6M1109.2 836.35v6M1109.2 852.07v6M1109.2 883.5v6M1109.2 899.22v6M1109.2 914.94v6M1109.2 946.37v6M1109.2 962.09v6M1109.2 977.8v6M1109.2 993.52v6M1109.2 1009.24v6M1109.2 1024.95v6M1109.2 1040.67v6M1109.2 1056.39v6M1109.2 1072.11v6M1109.2 1087.82v6" stroke="#d8d8d8" stroke-width="0.9" fill="none"/>
<path d="M859.5 53.5V448.23M859.5 53.5H992.2M859.5 81H945.7M945.7 69.22V92.79M945.7 69.22H966.6M945.7 92.79H957.3M957.3 84.93V100.65M957.3 84.93H1004.2M957.3 100.65H1012M859.5 448.23H880.5M880.5 218.47V677.99M880.5 218.47H893M893 151.73V285.2M893 151.73H968.4M968.4 128.16V175.31M968.4 128.16H992.9M992.9 116.37V139.94M992.9 116.37H1049.7M992.9 139.94H1004.5M1004.5 132.09V147.8M1004.5 132.09H1064M1004.5 147.8H1107.3M968.4 175.31H986.5M986.5 163.52V187.09M986.5 163.52H997.9M986.5 187.09H1010.6M1010.6 179.24V194.95M1010.6 179.24H1031.3M1010.6 194.95H1093.8M893 285.2H902.2M902.2 224.42V345.98M902.2 224.42H927.2M927.2 210.67V238.17M927.2 210.67H938.8M927.2 238.17H937.4M937.4 226.39V249.96M937.4 226.39H947.4M937.4 249.96H941.4M941.4 242.1V257.82M941.4 242.1H998.6M941.4 257.82H991.5M902.2 345.98H919.2M919.2 294.17V397.8M919.2 294.17H954.5M954.5 273.54V314.8M954.5 273.54H1008.5M954.5 314.8H982.6M982.6 297.11V332.48M982.6 297.11H997.4M997.4 289.25V304.97M997.4 289.25H1035.5M997.4 304.97H1059M982.6 332.48H990.7M990.7 320.69V344.26M990.7 320.69H1046.2M990.7 344.26H1033.4M1033.4 336.41V352.12M1033.4 336.41H1086M1033.4 352.12H1067.5M919.2 397.8H936M936 375.7V419.9M936 375.7H982.6M982.6 367.84V383.56M982.6 367.84H1051.2M982.6 383.56H1078.2M936 419.9H961.3M961.3 399.27V440.53M961.3 399.27H986.5M961.3 440.53H974.1M974.1 422.85V458.21M974.1 422.85H1019.9M1019.9 414.99V430.71M1019.9 414.99H1023.4M1019.9 430.71H1030.5M974.1 458.21H984.6M984.6 446.43V470M984.6 446.43H1040.5M984.6 470H1009.2M1009.2 462.14V477.86M1009.2 462.14H1042.6M1009.2 477.86H1051.2M880.5 677.99H894.5M894.5 552.76V803.22M894.5 552.76H900.7M900.7 505.36V600.16M900.7 505.36H915.7M915.7 493.58V517.15M915.7 493.58H955.9M915.7 517.15H925.3M925.3 509.29V525.01M925.3 509.29H998.3M925.3 525.01H964.4M900.7 600.16H909.7M909.7 554.48V645.83M909.7 554.48H941M941 540.73V568.23M941 540.73H958.7M941 568.23H954.5M954.5 556.44V580.02M954.5 556.44H983.6M954.5 580.02H979.4M979.4 572.16V587.88M979.4 572.16H1027.7M979.4 587.88H992.2M909.7 645.83H926.8M926.8 615.38V676.29M926.8 615.38H998.3M998.3 603.6V627.17M998.3 603.6H1061.8M998.3 627.17H1018.5M1018.5 619.31V635.03M1018.5 619.31H1049.7M1018.5 635.03H1019.2M926.8 676.29H949.1M949.1 658.6V693.97M949.1 658.6H1013.5M1013.5 650.75V666.46M1013.5 650.75H1015.6M1013.5 666.46H1024.4M949.1 693.97H963.3M963.3 682.18V705.76M963.3 682.18H1009.2M963.3 705.76H1031.3M1031.3 697.9V713.61M1031.3 697.9H1037M1031.3 713.61H1038.7M894.5 803.22H910.7M910.7 737.19V869.25M910.7 737.19H947.4M947.4 729.33V745.05M947.4 729.33H1010.6M947.4 745.05H1048.3M910.7 869.25H919.6M919.6 797.11V941.39M919.6 797.11H923.5M923.5 772.55V821.67M923.5 772.55H928.9M928.9 760.76V784.34M928.9 760.76H954.5M928.9 784.34H967.3M967.3 776.48V792.2M967.3 776.48H1034.1M967.3 792.2H1029.1M923.5 821.67H943.4M943.4 807.92V835.42M943.4 807.92H992.9M943.4 835.42H960.9M960.9 823.63V847.21M960.9 823.63H1010.6M960.9 847.21H1000.3M1000.3 839.35V855.07M1000.3 839.35H1002.1M1000.3 855.07H1006.4M919.6 941.39H932M932 890.43V992.35M932 890.43H954.8M954.8 870.78V910.08M954.8 870.78H991.5M954.8 910.08H987.2M987.2 894.36V925.79M987.2 894.36H1005.4M1005.4 886.5V902.22M1005.4 886.5H1020.6M1005.4 902.22H1009.9M987.2 925.79H992.9M992.9 917.94V933.65M992.9 917.94H1019.2M992.9 933.65H1008.5M932 992.35H988.9M988.9 961.16V1023.53M988.9 961.16H1005.7M1005.7 949.37V972.94M1005.7 949.37H1006M1005.7 972.94H1013.9M1013.9 965.09V980.8M1013.9 965.09H1015M1013.9 980.8H1020.6M988.9 1023.53H999.3M999.3 1004.38V1042.69M999.3 1004.38H1034.1M1034.1 996.52V1012.24M1034.1 996.52H1039.5M1034.1 1012.24H1035.5M999.3 1042.69H1005.7M1005.7 1027.95V1057.42M1005.7 1027.95H1040.5M1005.7 1057.42H1013.5M1013.5 1043.67V1071.18M1013.5 1043.67H1035.5M1013.5 1071.18H1019.9M1019.9 1059.39V1082.96M1019.9 1059.39H1029.6M1019.9 1082.96H1025.9M1025.9 1075.11V1090.82M1025.9 1075.11H1037M1025.9 1090.82H1026" stroke="#0a0a14" stroke-width="1.5" fill="none" stroke-linecap="square"/>
<path d="M966.6 69.22L976.5 60.82V77.62Z" fill="#ff7f0e" stroke="#1a0d00" stroke-width="1.4" stroke-linejoin="miter"/>
<path d="M1012 100.65L1028.4 92.35V108.95Z" fill="#ff7f0e" stroke="#1a0d00" stroke-width="1.4" stroke-linejoin="miter"/>
<path d="M997.9 163.52L1018.8 155.72V171.32Z" fill="#ff7f0e" stroke="#1a0d00" stroke-width="1.4" stroke-linejoin="miter"/>
<path d="M938.8 210.67L1030.3 202.67V218.67Z" fill="#ff7f0e" stroke="#1a0d00" stroke-width="1.0" stroke-linejoin="miter" stroke-dasharray="5 1.5"/>
<path d="M947.4 226.39L1057.6 218.39V234.39Z" fill="#ff7f0e" stroke="#1a0d00" stroke-width="1.0" stroke-linejoin="miter" stroke-dasharray="5 1.5"/>
<path d="M958.7 540.73L976.5 532.43V549.03Z" fill="#ff7f0e" stroke="#1a0d00" stroke-width="1.4" stroke-linejoin="miter"/>
<path d="M983.6 556.44L1008.2 548.44V564.44Z" fill="#ff7f0e" stroke="#1a0d00" stroke-width="1.4" stroke-linejoin="miter"/>
<path d="M954.5 760.76L961.9 752.56V768.97Z" fill="#ff7f0e" stroke="#1a0d00" stroke-width="1.4" stroke-linejoin="miter"/>
<path d="M992.9 807.92L1012.5 799.92V815.92Z" fill="#ff7f0e" stroke="#1a0d00" stroke-width="1.4" stroke-linejoin="miter"/>
<path d="M991.5 870.78L1011.6 862.78V878.78Z" fill="#ff7f0e" stroke="#1a0d00" stroke-width="1.4" stroke-linejoin="miter"/>
<path d="M1008.5 933.65L1032.4 925.35V941.95Z" fill="#ff7f0e" stroke="#1a0d00" stroke-width="1.4" stroke-linejoin="miter"/>
<circle cx="903" cy="81" r="7.4" fill="#7a7af2" fill-opacity="0.92"/>
<circle cx="956.2" cy="69.22" r="6.4" fill="#7a7af2" fill-opacity="0.92"/>
<circle cx="951.6" cy="92.79" r="5.4" fill="#7a7af2" fill-opacity="0.92"/>
<circle cx="985" cy="100.65" r="7.4" fill="#7a7af2" fill-opacity="0.92"/>
<circle cx="870.6" cy="448.23" r="3.7" fill="#7a7af2" fill-opacity="0.92"/>
<circle cx="887" cy="218.47" r="3.7" fill="#7a7af2" fill-opacity="0.92"/>
<circle cx="931" cy="151.73" r="7.4" fill="#7a7af2" fill-opacity="0.92"/>
<circle cx="980.8" cy="128.16" r="5.3" fill="#7a7af2" fill-opacity="0.92"/>
<circle cx="998.6" cy="139.94" r="4.6" fill="#7a7af2" fill-opacity="0.92"/>
<circle cx="977.5" cy="175.31" r="5.8" fill="#7a7af2" fill-opacity="0.92"/>
<circle cx="991.7" cy="163.52" r="5" fill="#7a7af2" fill-opacity="0.92"/>
<circle cx="998.3" cy="187.09" r="6.8" fill="#7a7af2" fill-opacity="0.92"/>
<circle cx="897.3" cy="285.2" r="3.9" fill="#7a7af2" fill-opacity="0.92"/>
<circle cx="914.7" cy="224.42" r="5" fill="#7a7af2" fill-opacity="0.92"/>
<circle cx="933.4" cy="210.67" r="5.3" fill="#7a7af2" fill-opacity="0.92"/>
<circle cx="932" cy="238.17" r="4.7" fill="#7a7af2" fill-opacity="0.92"/>
<circle cx="943.1" cy="226.39" r="5" fill="#7a7af2" fill-opacity="0.92"/>
<circle cx="938.8" cy="249.96" r="3.7" fill="#7a7af2" fill-opacity="0.92"/>
<circle cx="910.4" cy="345.98" r="5.3" fill="#7a7af2" fill-opacity="0.92"/>
<circle cx="937.1" cy="294.17" r="5.7" fill="#7a7af2" fill-opacity="0.92"/>
<circle cx="968.7" cy="314.8" r="6.8" fill="#7a7af2" fill-opacity="0.92"/>
<circle cx="989.7" cy="297.11" r="5.7" fill="#7a7af2" fill-opacity="0.92"/>
<circle cx="986.5" cy="332.48" r="4.6" fill="#7a7af2" fill-opacity="0.92"/>
<circle cx="1012" cy="344.26" r="7.4" fill="#7a7af2" fill-opacity="0.92"/>
<circle cx="927.8" cy="397.8" r="5" fill="#7a7af2" fill-opacity="0.92"/>
<circle cx="959.5" cy="375.7" r="7" fill="#7a7af2" fill-opacity="0.92"/>
<circle cx="948.8" cy="419.9" r="4.3" fill="#7a7af2" fill-opacity="0.92"/>
<circle cx="968" cy="440.53" r="4.3" fill="#7a7af2" fill-opacity="0.92"/>
<circle cx="996.9" cy="422.85" r="7.8" fill="#7a7af2" fill-opacity="0.92"/>
<circle cx="979.4" cy="458.21" r="4.6" fill="#7a7af2" fill-opacity="0.92"/>
<circle cx="996.9" cy="470" r="7" fill="#7a7af2" fill-opacity="0.92"/>
<circle cx="887.4" cy="677.99" r="3" fill="#7a7af2" fill-opacity="0.92"/>
<circle cx="897.3" cy="552.76" r="3.9" fill="#7a7af2" fill-opacity="0.92"/>
<circle cx="908.3" cy="505.36" r="3.9" fill="#7a7af2" fill-opacity="0.92"/>
<circle cx="920.4" cy="517.15" r="3.7" fill="#7a7af2" fill-opacity="0.92"/>
<circle cx="905.1" cy="600.16" r="4.3" fill="#7a7af2" fill-opacity="0.92"/>
<circle cx="925.3" cy="554.48" r="6.8" fill="#7a7af2" fill-opacity="0.92"/>
<circle cx="949.5" cy="540.73" r="6.8" fill="#7a7af2" fill-opacity="0.92"/>
<circle cx="947.7" cy="568.23" r="5.7" fill="#7a7af2" fill-opacity="0.92"/>
<circle cx="968" cy="556.44" r="8" fill="#7a7af2" fill-opacity="0.92"/>
<circle cx="966.6" cy="580.02" r="7.8" fill="#7a7af2" fill-opacity="0.92"/>
<circle cx="918.5" cy="645.83" r="5.3" fill="#7a7af2" fill-opacity="0.92"/>
<circle cx="962.7" cy="615.38" r="7.8" fill="#7a7af2" fill-opacity="0.92"/>
<circle cx="1008.2" cy="627.17" r="7.4" fill="#7a7af2" fill-opacity="0.92"/>
<circle cx="938.1" cy="676.29" r="6.4" fill="#7a7af2" fill-opacity="0.92"/>
<circle cx="981.2" cy="658.6" r="7.8" fill="#7a7af2" fill-opacity="0.92"/>
<circle cx="956.3" cy="693.97" r="5.3" fill="#7a7af2" fill-opacity="0.92"/>
<circle cx="997.1" cy="705.76" r="7.8" fill="#7a7af2" fill-opacity="0.92"/>
<circle cx="902.6" cy="803.22" r="3" fill="#7a7af2" fill-opacity="0.92"/>
<circle cx="929.6" cy="737.19" r="6.4" fill="#7a7af2" fill-opacity="0.92"/>
<circle cx="915.4" cy="869.25" r="3.3" fill="#7a7af2" fill-opacity="0.92"/>
<circle cx="921.8" cy="797.11" r="3" fill="#7a7af2" fill-opacity="0.92"/>
<circle cx="926.3" cy="772.55" r="3.3" fill="#7a7af2" fill-opacity="0.92"/>
<circle cx="942.4" cy="760.76" r="7" fill="#7a7af2" fill-opacity="0.92"/>
<circle cx="948.4" cy="784.34" r="7" fill="#7a7af2" fill-opacity="0.92"/>
<circle cx="933.6" cy="821.67" r="5.7" fill="#7a7af2" fill-opacity="0.92"/>
<circle cx="968" cy="807.92" r="7.8" fill="#7a7af2" fill-opacity="0.92"/>
<circle cx="952.4" cy="835.42" r="6.8" fill="#7a7af2" fill-opacity="0.92"/>
<circle cx="980.4" cy="847.21" r="7.8" fill="#7a7af2" fill-opacity="0.92"/>
<circle cx="926" cy="941.39" r="4" fill="#7a7af2" fill-opacity="0.92"/>
<circle cx="943.4" cy="890.43" r="5.7" fill="#7a7af2" fill-opacity="0.92"/>
<circle cx="972" cy="870.78" r="7.8" fill="#7a7af2" fill-opacity="0.92"/>
<circle cx="971.3" cy="910.08" r="7.8" fill="#7a7af2" fill-opacity="0.92"/>
<circle cx="996.1" cy="894.36" r="7.4" fill="#7a7af2" fill-opacity="0.92"/>
<circle cx="989.3" cy="925.79" r="5" fill="#7a7af2" fill-opacity="0.92"/>
<circle cx="1000.3" cy="933.65" r="7.4" fill="#7a7af2" fill-opacity="0.92"/>
<circle cx="960.5" cy="992.35" r="7.8" fill="#7a7af2" fill-opacity="0.92"/>
<circle cx="997.1" cy="961.16" r="7" fill="#7a7af2" fill-opacity="0.92"/>
<circle cx="1009.2" cy="972.94" r="6.4" fill="#7a7af2" fill-opacity="0.92"/>
<circle cx="994" cy="1023.53" r="5.3" fill="#7a7af2" fill-opacity="0.92"/>
<circle cx="1016.3" cy="1004.38" r="7.8" fill="#7a7af2" fill-opacity="0.92"/>
<circle cx="1002.1" cy="1042.69" r="5.3" fill="#7a7af2" fill-opacity="0.92"/>
<circle cx="1009.7" cy="1057.42" r="5.7" fill="#7a7af2" fill-opacity="0.92"/>
<circle cx="1016.8" cy="1071.18" r="6.4" fill="#7a7af2" fill-opacity="0.92"/>
<circle cx="1022.7" cy="1082.96" r="6.4" fill="#7a7af2" fill-opacity="0.92"/>
<text x="1114.87" y="61.2" font-size="19.15" xml:space="preserve" textLength="332.28" lengthAdjust="spacingAndGlyphs" class="s1">XP 021770466.1  <tspan font-style="italic">Chenopodium quinoa</tspan></text>
<text x="1113.57" y="76.92" font-size="19.15" xml:space="preserve" textLength="178.33" lengthAdjust="spacingAndGlyphs" class="s1"><tspan font-style="italic">Triticum aestivum</tspan> (4)</text>
<text x="1114.4" y="92.63" font-size="19.15" xml:space="preserve" textLength="261.84" lengthAdjust="spacingAndGlyphs" class="s1">Os03t0163900-00 <tspan font-style="italic">Oryza sativa</tspan></text>
<text x="1115.67" y="108.35" font-size="19.15" xml:space="preserve" textLength="110.9" lengthAdjust="spacingAndGlyphs" class="s1"><tspan font-style="italic">Zea mays</tspan> (7)</text>
<text x="1114.35" y="124.07" font-size="19.15" xml:space="preserve" style="fill:#2e2e2e;stroke:#2e2e2e" textLength="222.2" lengthAdjust="spacingAndGlyphs" class="s1">GFY84975.1 <tspan font-style="italic">Actinidia rufa</tspan></text>
<text x="1113.74" y="139.78" font-size="19.15" xml:space="preserve" style="fill:#2e2e2e;stroke:#2e2e2e" textLength="280.21" lengthAdjust="spacingAndGlyphs" class="s1">PNT25016.1 <tspan font-style="italic">Populus trichocarpa</tspan></text>
<text x="1114.87" y="155.5" font-size="19.15" xml:space="preserve" style="fill:#2e2e2e;stroke:#2e2e2e" textLength="269.41" lengthAdjust="spacingAndGlyphs" class="s1">XP 024958372.1 <tspan font-style="italic">Citrus sinensis</tspan></text>
<text x="1114.36" y="171.22" font-size="19.15" xml:space="preserve" style="fill:#2e2e2e;stroke:#2e2e2e" textLength="134.42" lengthAdjust="spacingAndGlyphs" class="s1"><tspan font-style="italic">Gossypium</tspan> (10)</text>
<text x="1114.4" y="186.94" font-size="19.15" xml:space="preserve" textLength="297.29" lengthAdjust="spacingAndGlyphs" class="s1">OMO54782.1 <tspan font-style="italic">Corchorus capsularis</tspan></text>
<text x="1114.4" y="202.65" font-size="19.15" xml:space="preserve" textLength="297.29" lengthAdjust="spacingAndGlyphs" class="s1">OMO54775.1 <tspan font-style="italic">Corchorus capsularis</tspan></text>
<text x="1116.11" y="218.37" font-size="19.15" xml:space="preserve" textLength="153.37" lengthAdjust="spacingAndGlyphs" class="s1"><tspan font-style="italic">Brassicaceae</tspan> (41)</text>
<text x="1116.11" y="234.09" font-size="19.15" xml:space="preserve" textLength="153.37" lengthAdjust="spacingAndGlyphs" class="s1"><tspan font-style="italic">Brassicaceae</tspan> (49)</text>
<text x="1115.13" y="249.8" font-size="19.15" xml:space="preserve" textLength="322.93" lengthAdjust="spacingAndGlyphs" class="s1">LOC104800884 <tspan font-style="italic">Tarenaya hassleriana</tspan></text>
<text x="1115.13" y="265.52" font-size="19.15" xml:space="preserve" textLength="322.93" lengthAdjust="spacingAndGlyphs" class="s1">LOC104826208 <tspan font-style="italic">Tarenaya hassleriana</tspan></text>
<text x="1115.14" y="281.24" font-size="19.15" xml:space="preserve" textLength="305.64" lengthAdjust="spacingAndGlyphs" class="s1">KAF5738906.1 <tspan font-style="italic">Tripterygium wilfordii</tspan></text>
<text x="1115.14" y="296.95" font-size="19.15" xml:space="preserve" textLength="248.45" lengthAdjust="spacingAndGlyphs" class="s1">KDP40287.1 <tspan font-style="italic">Jatropha curcas</tspan></text>
<text x="1115.74" y="312.67" font-size="19.15" xml:space="preserve" textLength="299.25" lengthAdjust="spacingAndGlyphs" class="s1">GAV71201.1 <tspan font-style="italic">Cephalotus follicularis</tspan></text>
<text x="1115.12" y="328.39" font-size="19.15" xml:space="preserve" textLength="218.74" lengthAdjust="spacingAndGlyphs" class="s1">KHN00311.1 <tspan font-style="italic">Glycine soja</tspan></text>
<text x="1115.15" y="344.11" font-size="19.15" xml:space="preserve" textLength="273.35" lengthAdjust="spacingAndGlyphs" class="s1">EYU32985.1 Erythranthe guttata</text>
<text x="1115.75" y="359.82" font-size="19.15" xml:space="preserve" textLength="354.44" lengthAdjust="spacingAndGlyphs" class="s1">GFP95887.1 <tspan font-style="italic">Phtheirospermum japonicum</tspan></text>
<text x="1115.14" y="375.54" font-size="19.15" xml:space="preserve" textLength="294.31" lengthAdjust="spacingAndGlyphs" class="s1">ERN01371.1 <tspan font-style="italic">Amborella trichopoda</tspan></text>
<text x="1115.14" y="391.26" font-size="19.15" xml:space="preserve" textLength="294.31" lengthAdjust="spacingAndGlyphs" class="s1">ERN01376.1 <tspan font-style="italic">Amborella trichopoda</tspan></text>
<text x="1115.14" y="406.97" font-size="19.15" xml:space="preserve" textLength="267.36" lengthAdjust="spacingAndGlyphs" class="s1">EOX94529.1 <tspan font-style="italic">Theobroma cacao</tspan></text>
<text x="1115.8" y="422.69" font-size="19.15" xml:space="preserve" textLength="297.59" lengthAdjust="spacingAndGlyphs" class="s1">OMO78432.1 <tspan font-style="italic">Corchorus capsularis</tspan></text>
<text x="1115.8" y="438.41" font-size="19.15" xml:space="preserve" textLength="275.19" lengthAdjust="spacingAndGlyphs" class="s1">OMP09313.1 <tspan font-style="italic">Corchorus olitorius</tspan></text>
<text x="1115.8" y="454.12" font-size="19.15" xml:space="preserve" textLength="263.66" lengthAdjust="spacingAndGlyphs" class="s1">OVA05286.1 <tspan font-style="italic">Macleaya cordata</tspan></text>
<text x="1115.14" y="469.84" font-size="19.15" xml:space="preserve" textLength="254.51" lengthAdjust="spacingAndGlyphs" class="s1">PWA62028.1 <tspan font-style="italic">Artemisia annua</tspan></text>
<text x="1115.14" y="485.56" font-size="19.15" xml:space="preserve" textLength="402.85" lengthAdjust="spacingAndGlyphs" class="s1">KVH91313.1 <tspan font-style="italic">Cynara cardunculus</tspan> var. <tspan font-style="italic">scolymus</tspan></text>
<text x="1115.14" y="501.28" font-size="19.15" xml:space="preserve" textLength="307.81" lengthAdjust="spacingAndGlyphs" class="s1">KAF3943723.1 <tspan font-style="italic">Castanea mollissima</tspan></text>
<text x="1115.74" y="516.99" font-size="19.15" xml:space="preserve" textLength="299.25" lengthAdjust="spacingAndGlyphs" class="s1">GAV66766.1 <tspan font-style="italic">Cephalotus follicularis</tspan></text>
<text x="1115.14" y="532.71" font-size="19.15" xml:space="preserve" textLength="287.06" lengthAdjust="spacingAndGlyphs" class="s1">KAE7997774.1 <tspan font-style="italic">Carpinus</tspan> fangiana</text>
<text x="1115.76" y="548.43" font-size="19.15" xml:space="preserve" textLength="123.82" lengthAdjust="spacingAndGlyphs" class="s1"><tspan font-style="italic">Gossypium</tspan> (8)</text>
<text x="1115.76" y="564.14" font-size="19.15" xml:space="preserve" textLength="134.62" lengthAdjust="spacingAndGlyphs" class="s1"><tspan font-style="italic">Gossypium</tspan> (12)</text>
<text x="1115.8" y="579.86" font-size="19.15" xml:space="preserve" textLength="297.59" lengthAdjust="spacingAndGlyphs" class="s1">OMO78433.1 <tspan font-style="italic">Corchorus capsularis</tspan></text>
<text x="1115.14" y="595.58" font-size="19.15" xml:space="preserve" textLength="280.55" lengthAdjust="spacingAndGlyphs" class="s1">KAE8692203.1 <tspan font-style="italic">Hibiscus syriacus</tspan></text>
<text x="1115.14" y="611.3" font-size="19.15" xml:space="preserve" textLength="245.61" lengthAdjust="spacingAndGlyphs" class="s1">KAB1208796.1 <tspan font-style="italic">Morella rubra</tspan></text>
<text x="1115.14" y="627.01" font-size="19.15" xml:space="preserve" textLength="288.12" lengthAdjust="spacingAndGlyphs" class="s1">KAE7997784.1 <tspan font-style="italic">Carpinus fangiana</tspan></text>
<text x="1115.14" y="642.73" font-size="19.15" xml:space="preserve" textLength="288.12" lengthAdjust="spacingAndGlyphs" class="s1">KAE7997786.1 <tspan font-style="italic">Carpinus fangiana</tspan></text>
<text x="1116.27" y="658.45" font-size="19.15" xml:space="preserve" textLength="220.27" lengthAdjust="spacingAndGlyphs" class="s1">TKS17930.1 <tspan font-style="italic">Populus alba</tspan></text>
<text x="1115.14" y="674.16" font-size="19.15" xml:space="preserve" textLength="282.65" lengthAdjust="spacingAndGlyphs" class="s1">KAF9863077.1 <tspan font-style="italic">Populus deltoides</tspan></text>
<text x="1115.8" y="689.88" font-size="19.15" xml:space="preserve" textLength="267.76" lengthAdjust="spacingAndGlyphs" class="s1">OAY61573.1 <tspan font-style="italic">Manihot esculenta</tspan></text>
<text x="1115.14" y="705.6" font-size="19.15" xml:space="preserve" textLength="265.45" lengthAdjust="spacingAndGlyphs" class="s1">EEF41448.1 <tspan font-style="italic">Ricinus communis</tspan></text>
<text x="1115.14" y="721.31" font-size="19.15" xml:space="preserve" textLength="265.45" lengthAdjust="spacingAndGlyphs" class="s1">EEF41428.1 <tspan font-style="italic">Ricinus communis</tspan></text>
<text x="1115.15" y="737.03" font-size="19.15" xml:space="preserve" textLength="361.04" lengthAdjust="spacingAndGlyphs" class="s1">KZM86740.1 Daucus carota subsp. sativus</text>
<text x="1115.14" y="752.75" font-size="19.15" xml:space="preserve" textLength="346.95" lengthAdjust="spacingAndGlyphs" class="s1">PIN09251.1 <tspan font-style="italic">Handroanthus impetiginosus</tspan></text>
<text x="1115.04" y="768.47" font-size="19.15" xml:space="preserve" textLength="132.26" lengthAdjust="spacingAndGlyphs" class="s1"><tspan font-style="italic">Vitis vinifera</tspan> (3)</text>
<text x="1115.14" y="784.18" font-size="19.15" xml:space="preserve" textLength="261.61" lengthAdjust="spacingAndGlyphs" class="s1">PIA45272.1 <tspan font-style="italic">Aquilegia coerulea</tspan></text>
<text x="1116.27" y="799.9" font-size="19.15" xml:space="preserve" textLength="253.43" lengthAdjust="spacingAndGlyphs" class="s1">TXG63783.1 <tspan font-style="italic">Acer yangbiense</tspan></text>
<text x="1115.04" y="815.62" font-size="19.15" xml:space="preserve" textLength="132.26" lengthAdjust="spacingAndGlyphs" class="s1"><tspan font-style="italic">Vitis vinifera</tspan> (9)</text>
<text x="1115.14" y="831.33" font-size="19.15" xml:space="preserve" textLength="265.45" lengthAdjust="spacingAndGlyphs" class="s1">EEF40353.1 <tspan font-style="italic">Ricinus communis</tspan></text>
<text x="1116.27" y="847.05" font-size="19.15" xml:space="preserve" textLength="313.87" lengthAdjust="spacingAndGlyphs" class="s1">XP 002319090.1 <tspan font-style="italic">Populus trichocarpa</tspan></text>
<text x="1116.27" y="862.77" font-size="19.15" xml:space="preserve" textLength="221.27" lengthAdjust="spacingAndGlyphs" class="s1">TKR71308.1 <tspan font-style="italic">Populus alba</tspan></text>
<text x="1115.76" y="878.48" font-size="19.15" xml:space="preserve" textLength="134.62" lengthAdjust="spacingAndGlyphs" class="s1"><tspan font-style="italic">Gossypium</tspan> (10)</text>
<text x="1116.27" y="894.2" font-size="19.15" xml:space="preserve" textLength="307.68" lengthAdjust="spacingAndGlyphs" class="s1">XP 021283166.1 <tspan font-style="italic">Herrania umbratica</tspan></text>
<text x="1115.13" y="909.92" font-size="19.15" xml:space="preserve" textLength="267.38" lengthAdjust="spacingAndGlyphs" class="s1">EOY11000.1 <tspan font-style="italic">Theobroma cacao</tspan></text>
<text x="1115.8" y="925.64" font-size="19.15" xml:space="preserve" textLength="277.19" lengthAdjust="spacingAndGlyphs" class="s1">OMO96234.1 <tspan font-style="italic">Corchorus olitorius</tspan></text>
<text x="1115.75" y="941.35" font-size="19.15" xml:space="preserve" textLength="159.54" lengthAdjust="spacingAndGlyphs" class="s1"><tspan font-style="italic">Gossypium sp</tspan> (11)</text>
<text x="1116.27" y="957.07" font-size="19.15" xml:space="preserve" textLength="305.82" lengthAdjust="spacingAndGlyphs" class="s1">XP 007144844.1 <tspan font-style="italic">Phaseolus vulgaris</tspan></text>
<text x="1115.8" y="972.79" font-size="19.15" xml:space="preserve" textLength="266.35" lengthAdjust="spacingAndGlyphs" class="s1">QCE07441.1 <tspan font-style="italic">Vigna unguiculata</tspan></text>
<text x="1115.13" y="988.5" font-size="19.15" xml:space="preserve" textLength="361.46" lengthAdjust="spacingAndGlyphs" class="s1">BAT94955.1 <tspan font-style="italic">Vigna angularis var. angularis</tspan></text>
<text x="1115.13" y="1004.22" font-size="19.15" xml:space="preserve" textLength="251.56" lengthAdjust="spacingAndGlyphs" class="s1">KAE9589635.1 <tspan font-style="italic">Lupinus albus</tspan></text>
<text x="1115.8" y="1019.94" font-size="19.15" xml:space="preserve" textLength="289.29" lengthAdjust="spacingAndGlyphs" class="s1">OIW07159.1 <tspan font-style="italic">Lupinus angustifolius</tspan></text>
<text x="1115.13" y="1035.65" font-size="19.15" xml:space="preserve" textLength="233.43" lengthAdjust="spacingAndGlyphs" class="s1">KYP74488.1 <tspan font-style="italic">Cajanus cajan</tspan></text>
<text x="1116.27" y="1051.37" font-size="19.15" xml:space="preserve" textLength="313.62" lengthAdjust="spacingAndGlyphs" class="s1">TKY52111.1 <tspan font-style="italic">Spatholobus suberectus</tspan></text>
<text x="1115.15" y="1067.09" font-size="19.15" xml:space="preserve" textLength="218.9" lengthAdjust="spacingAndGlyphs" class="s1">KRG92706.1 <tspan font-style="italic">Glycine max</tspan></text>
<text x="1115.14" y="1082.81" font-size="19.15" xml:space="preserve" textLength="216.01" lengthAdjust="spacingAndGlyphs" class="s1">RZB87575.1 <tspan font-style="italic">Glycine soja</tspan></text>
<text x="1115.13" y="1098.52" font-size="19.15" xml:space="preserve" textLength="218.72" lengthAdjust="spacingAndGlyphs" class="s1">KHN14833.1 <tspan font-style="italic">Glycine soja</tspan></text>
<line x1="1115.6" y1="61.2" x2="1126.6" y2="61.2" stroke="#000" stroke-width="0.9"/>
<text x="752.3" y="923.5" font-size="30.5" textLength="135.73" lengthAdjust="spacingAndGlyphs">Bootstrap</text>
<circle cx="788.7" cy="949.5" r="3.3" fill="#7a7af2" stroke="#4343b8" stroke-width="1" stroke-dasharray="2.2 1.6"/>
<text x="807.21" y="957.4" font-size="26" textLength="63.12" lengthAdjust="spacingAndGlyphs">0.024</text>
<circle cx="788.7" cy="979" r="4.9" fill="#7a7af2" stroke="#4343b8" stroke-width="1" stroke-dasharray="2.2 1.6"/>
<text x="807.21" y="987.5" font-size="26" textLength="49.47" lengthAdjust="spacingAndGlyphs">0.27</text>
<circle cx="788.7" cy="1007.6" r="6.1" fill="#7a7af2" stroke="#4343b8" stroke-width="1" stroke-dasharray="2.2 1.6"/>
<text x="807.75" y="1016.3" font-size="26" textLength="52.15" lengthAdjust="spacingAndGlyphs">0.51</text>
<circle cx="788.7" cy="1036.7" r="8.2" fill="#7a7af2" stroke="#4343b8" stroke-width="1" stroke-dasharray="2.2 1.6"/>
<text x="808.68" y="1046" font-size="26" textLength="50.87" lengthAdjust="spacingAndGlyphs">0.76</text>
<circle cx="788.7" cy="1065.7" r="9.4" fill="#7a7af2" stroke="#4343b8" stroke-width="1" stroke-dasharray="2.2 1.6"/>
<text x="807.88" y="1078" font-size="26" textLength="13.91" lengthAdjust="spacingAndGlyphs">1</text>
<rect x="61" y="1232" width="127" height="260" fill="none" stroke="#f0f0f0" stroke-width="1.2"/>
<text x="53.1" y="1220.9" font-size="30.5" textLength="135.42" lengthAdjust="spacingAndGlyphs">Bootstrap</text>
<circle cx="85.3" cy="1255.2" r="5.4" fill="#1ea9bd" stroke="#0e5560" stroke-width="0.9"/>
<text x="116.84" y="1262.7" font-size="24.23" textLength="37.73" lengthAdjust="spacingAndGlyphs">0.1</text>
<circle cx="85.3" cy="1303.1" r="8.2" fill="#1ea9bd" stroke="#0e5560" stroke-width="0.9"/>
<text x="116.95" y="1310.9" font-size="24.23" textLength="47.42" lengthAdjust="spacingAndGlyphs">0.33</text>
<circle cx="85.3" cy="1351.3" r="10.8" fill="#1ea9bd" stroke="#0e5560" stroke-width="0.9"/>
<text x="116.95" y="1358.6" font-size="24.23" textLength="47.37" lengthAdjust="spacingAndGlyphs">0.55</text>
<circle cx="85.3" cy="1399" r="13.4" fill="#1ea9bd" stroke="#0e5560" stroke-width="0.9"/>
<text x="116.96" y="1406.5" font-size="24.23" textLength="46.99" lengthAdjust="spacingAndGlyphs">0.78</text>
<circle cx="85.3" cy="1447.1" r="16.2" fill="#1ea9bd" stroke="#0e5560" stroke-width="0.9"/>
<text x="117.66" y="1454.2" font-size="24.23" textLength="12.97" lengthAdjust="spacingAndGlyphs">1</text>
<path d="M204.4 1373.8H260.3M260.3 1310.9V1436.1M260.3 1310.9H316M316 1285.7V1336.3M316 1285.7H371.6M316 1336.3H371.6M260.3 1386H371.6M260.3 1436.1H371.6" stroke="#000" stroke-width="1.7" fill="none" stroke-linecap="square"/>
<circle cx="288.2" cy="1310.9" r="15.5" fill="#1ea9bd"/>
<text x="374.16" y="1297.8" font-size="32.45" textLength="333.9" lengthAdjust="spacingAndGlyphs">SCREW1 (AT1G06135)</text>
<text x="377.26" y="1345.6" font-size="32.45" textLength="333.5" lengthAdjust="spacingAndGlyphs">SCREW2 (AT2G31345)</text>
<text x="380.36" y="1392.4" font-size="32.45" textLength="333.3" lengthAdjust="spacingAndGlyphs">SCREW4 (AT2G31335)</text>
<text x="380.36" y="1440.2" font-size="32.45" textLength="333.9" lengthAdjust="spacingAndGlyphs">SCREW3 (AT1G06137)</text>
<text x="735.77" y="1211.9" font-size="30.4" style="fill:#7a9445;stroke:#7a9445" textLength="87.43" lengthAdjust="spacingAndGlyphs" class="s2">Signal</text>
<text x="728.8" y="1243" font-size="30.4" style="fill:#7a9445;stroke:#7a9445" textLength="101.99" lengthAdjust="spacingAndGlyphs" class="s2">peptide</text>
<text x="866.16" y="1215.6" font-size="30.4" style="fill:#dd9d9c;stroke:#dd9d9c" textLength="114.66" lengthAdjust="spacingAndGlyphs" class="s2">Variable</text>
<text x="878.8" y="1246.8" font-size="30.4" style="fill:#dd9d9c;stroke:#dd9d9c" textLength="88.06" lengthAdjust="spacingAndGlyphs" class="s2">region</text>
<text x="997.49" y="1215.6" font-size="30.4" style="fill:#3d66a3;stroke:#3d66a3" textLength="153.25" lengthAdjust="spacingAndGlyphs" class="s2">Conserved</text>
<text x="998.71" y="1246.8" font-size="30.4" style="fill:#3d66a3;stroke:#3d66a3" textLength="153.43" lengthAdjust="spacingAndGlyphs" class="s2">C-terminus</text>
<path d="M722.8 1288.1H889.7V1307.1H722.8Q720.8 1307.1 720.8 1305.1V1290.1Q720.8 1288.1 722.8 1288.1Z" fill="url(#gg)"/>
<rect x="889.2" y="1288.1" width="52.7" height="19" fill="url(#gp)"/>
<rect x="939.4" y="1288.3" width="227.4" height="18.8" rx="3" ry="3" fill="url(#gbl)"/>
<text x="710.66" y="1288.4" font-size="24.23" textLength="14.51" lengthAdjust="spacingAndGlyphs" class="s2">1</text>
<text x="864.64" y="1285.3" font-size="24.23" textLength="30.05" lengthAdjust="spacingAndGlyphs" class="s2">26</text>
<text x="927.4" y="1285.3" font-size="24.23" textLength="29.09" lengthAdjust="spacingAndGlyphs" class="s2">35</text>
<text x="1150.84" y="1283.6" font-size="24.23" textLength="29.72" lengthAdjust="spacingAndGlyphs" class="s2">69</text>
<path d="M725.3 1334.3H892.8V1353H725.3Q723.3 1353 723.3 1351V1336.3Q723.3 1334.3 725.3 1334.3Z" fill="url(#gg)"/>
<rect x="892.3" y="1334.3" width="52.7" height="18.7" fill="url(#gp)"/>
<rect x="942.5" y="1334.5" width="227.4" height="18.5" rx="3" ry="3" fill="url(#gbl)"/>
<text x="711.66" y="1335" font-size="24.23" textLength="14.51" lengthAdjust="spacingAndGlyphs" class="s2">1</text>
<text x="877.52" y="1332.5" font-size="24.23" textLength="28.25" lengthAdjust="spacingAndGlyphs" class="s2">27</text>
<text x="931.72" y="1332.5" font-size="24.23" textLength="28.72" lengthAdjust="spacingAndGlyphs" class="s2">36</text>
<text x="1156.82" y="1332.8" font-size="24.23" textLength="27.86" lengthAdjust="spacingAndGlyphs" class="s2">70</text>
<path d="M724.4 1379.1H821.8V1398H724.4Q722.4 1398 722.4 1396V1381.1Q722.4 1379.1 724.4 1379.1Z" fill="url(#gg)"/>
<rect x="821.3" y="1379.1" width="62.1" height="18.9" fill="url(#gp)"/>
<rect x="880.9" y="1379.3" width="226.1" height="18.7" rx="3" ry="3" fill="url(#gbl)"/>
<text x="711.66" y="1379.2" font-size="24.23" textLength="14.51" lengthAdjust="spacingAndGlyphs" class="s2">1</text>
<text x="806.73" y="1376.4" font-size="24.23" textLength="28.29" lengthAdjust="spacingAndGlyphs" class="s2">16</text>
<text x="867.06" y="1376.4" font-size="24.23" textLength="29.61" lengthAdjust="spacingAndGlyphs" class="s2">26</text>
<text x="1084.85" y="1374.8" font-size="24.23" textLength="29.48" lengthAdjust="spacingAndGlyphs" class="s2">60</text>
<path d="M723.7 1428.6H890.8V1446.9H723.7Q721.7 1446.9 721.7 1444.9V1430.6Q721.7 1428.6 723.7 1428.6Z" fill="url(#gg)"/>
<rect x="890.3" y="1428.6" width="55.2" height="18.3" fill="url(#gp)"/>
<rect x="943" y="1428.8" width="226.1" height="18.1" rx="3" ry="3" fill="url(#gbl)"/>
<text x="711.66" y="1428" font-size="24.23" textLength="14.51" lengthAdjust="spacingAndGlyphs" class="s2">1</text>
<text x="874.17" y="1424.8" font-size="24.23" textLength="29.5" lengthAdjust="spacingAndGlyphs" class="s2">26</text>
<text x="928.65" y="1425.8" font-size="24.23" textLength="27.68" lengthAdjust="spacingAndGlyphs" class="s2">34</text>
<text x="1155.6" y="1425.8" font-size="24.23" textLength="28.41" lengthAdjust="spacingAndGlyphs" class="s2">68</text>
</svg>
</body>
</html>
